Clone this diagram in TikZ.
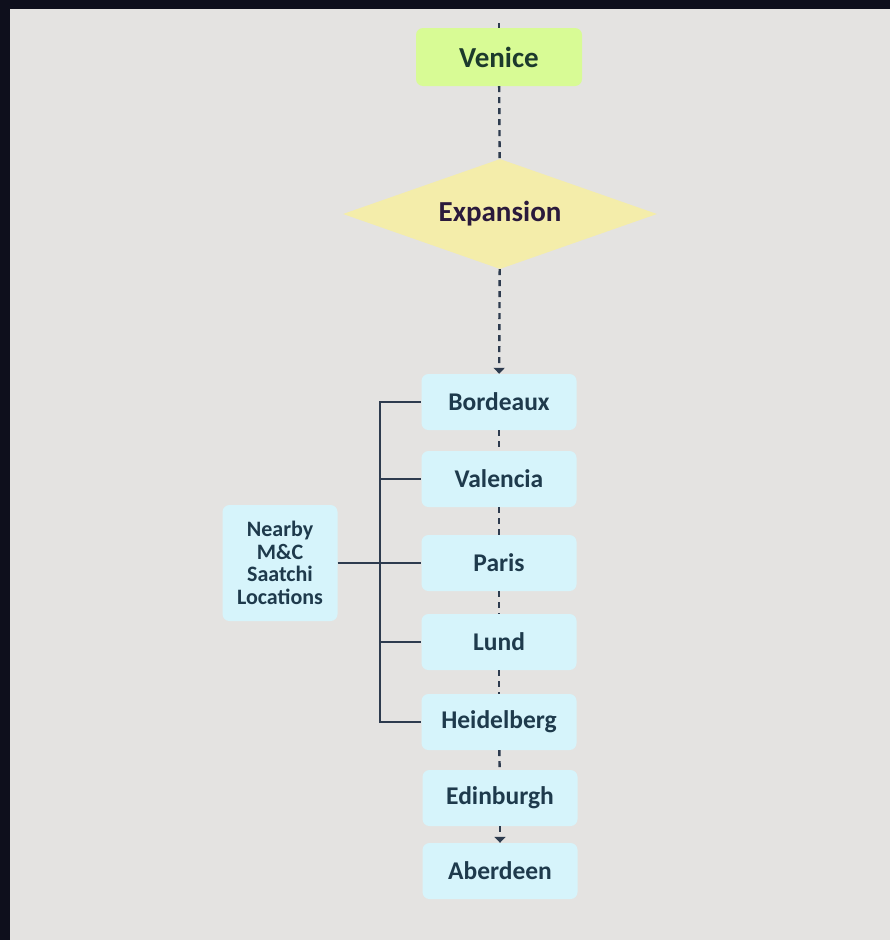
\documentclass[tikz,border=0pt]{standalone}
\usepackage{fontspec}
\setmainfont{Carlito}
\usetikzlibrary{shapes.geometric,arrows.meta}
\definecolor{frame}{HTML}{0E0F1C}
\definecolor{bg}{HTML}{E4E3E1}
\definecolor{venicefill}{HTML}{D8FB95}
\definecolor{venicetext}{HTML}{1C3A2C}
\definecolor{diamfill}{HTML}{F4EDAA}
\definecolor{diamtext}{HTML}{2A1A3C}
\definecolor{cityfill}{HTML}{D6F4FB}
\definecolor{citytext}{HTML}{1E3A4C}
\definecolor{linec}{HTML}{2D3B4E}
\tikzset{
  x=1pt, y=-1pt,
  citybox/.style={rectangle, rounded corners=7pt, fill=cityfill, text=citytext,
    minimum width=155pt, minimum height=56pt, inner sep=0pt,
    font=\fontsize{25.5}{27}\selectfont\bfseries},
  flowdash/.style={draw=linec, line width=2.4pt, dash pattern=on 6pt off 5pt},
  bracket/.style={draw=linec, line width=2.8pt},
  tip/.style={-{Triangle[width=11pt,length=6pt]}}
}
\begin{document}
\begin{tikzpicture}
\fill[frame] (0,0) rectangle (890,940);
\fill[bg] (10,9) rectangle (890,940);
\useasboundingbox (0,0) rectangle (890,940);

\node[rectangle, rounded corners=7pt, fill=venicefill, text=venicetext,
  minimum width=166pt, minimum height=58pt, inner sep=0pt,
  font=\fontsize{29}{31}\selectfont\bfseries] (venice) at (499,57) {Venice};
\node[diamond, aspect=2.85, fill=diamfill, text=diamtext, inner sep=0pt,
  minimum width=314pt, minimum height=110pt,
  font=\fontsize{29}{31}\selectfont\bfseries] (expansion) at (500,214) {Expansion};

\node[citybox] (bordeaux) at (499,402) {Bordeaux};
\node[citybox] (valencia) at (499,479) {Valencia};
\node[citybox] (paris) at (499,563) {Paris};
\node[citybox] (lund) at (499,642) {Lund};
\node[citybox] (heidelberg) at (499,722) {Heidelberg};
\node[citybox] (edinburgh) at (500,798) {Edinburgh};
\node[citybox] (aberdeen) at (500,871) {Aberdeen};

\node[rectangle, rounded corners=7pt, fill=cityfill, text=citytext,
  minimum width=115pt, minimum height=116pt, inner sep=0pt, align=center,
  font=\fontsize{22}{22.7}\selectfont\bfseries] (nearby) at (280,563)
  {Nearby\\M\&C\\Saatchi\\Locations};

\coordinate (stub) at (499,23);
\coordinate (hub) at (380,563);

\draw[flowdash] (stub) -- (venice.north);
\draw[flowdash] (venice) -- (expansion);
\draw[flowdash, tip] (expansion) -- (bordeaux);
\draw[flowdash] (bordeaux) -- (valencia);
\draw[flowdash] (valencia) -- (paris);
\draw[flowdash] (paris) -- (lund);
\draw[flowdash] (lund) -- (heidelberg);
\draw[flowdash] (heidelberg) -- (edinburgh);
\draw[flowdash, tip] (edinburgh) -- (aberdeen);

\draw[bracket] (nearby) -- (hub);
\draw[bracket] (hub) |- (bordeaux);
\draw[bracket] (hub) |- (valencia);
\draw[bracket] (hub) -- (paris);
\draw[bracket] (hub) |- (lund);
\draw[bracket] (hub) |- (heidelberg);
\end{tikzpicture}
\end{document}
